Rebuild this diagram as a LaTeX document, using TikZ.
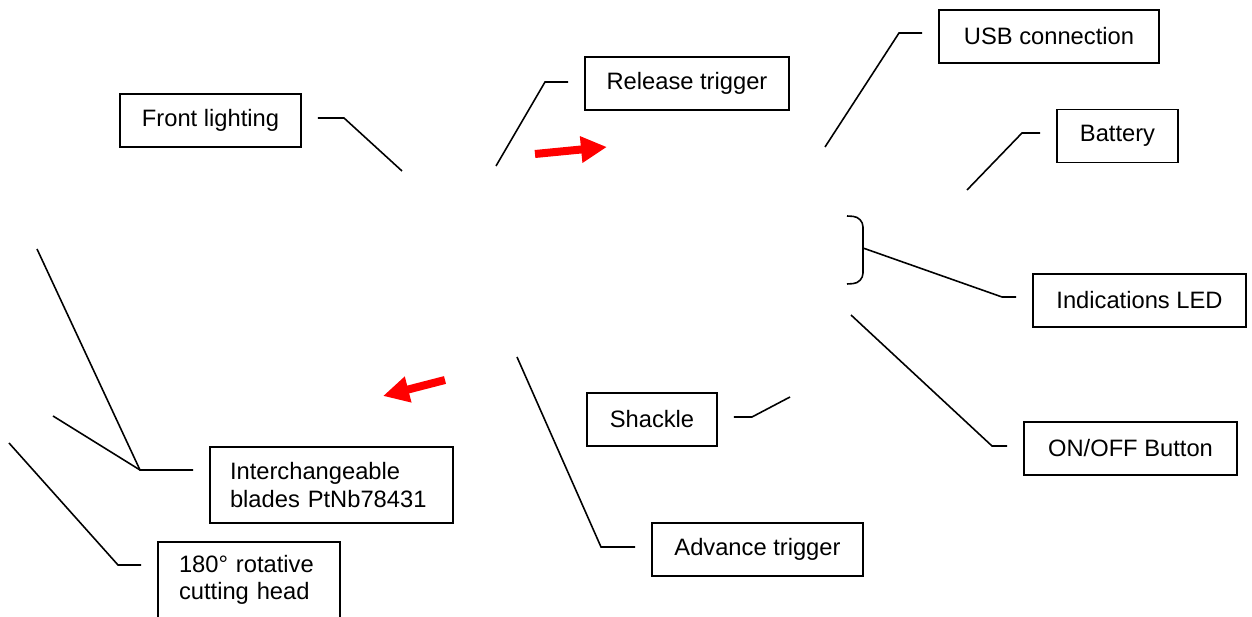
\documentclass[tikz,border=0pt]{standalone}
\usepackage{fontspec}
\setmainfont{Liberation Sans}
\usetikzlibrary{arrows.meta}

\begin{document}
\begin{tikzpicture}[
    x=0.02cm, y=-0.02cm,
    part/.style={draw, line width=0.9pt, minimum height=1.06cm, inner sep=0pt, font=\fontsize{13.5}{15.5}\selectfont},
    twoline/.style={part, align=left, minimum height=1.52cm},
    leader/.style={line width=0.9pt, shorten >=0.32cm},
    motion/.style={-{Triangle[length=0.52cm, width=0.5cm]}, line width=0.16cm, red}
]
\useasboundingbox (0,0) rectangle (1252,617);

% Part labels
\node[part, minimum width=3.62cm] (front) at (210.5,120.5) {Front lighting};
\node[part, minimum width=4.08cm] (release) at (687,83.5) {Release trigger};
\node[part, minimum width=4.40cm] (usb) at (1049,36.5) {USB connection};
\node[part, minimum width=2.42cm] (battery) at (1117.5,136) {Battery};
\node[part, minimum width=4.26cm] (leds) at (1139.5,300.5) {Indications LED};
\node[part, minimum width=4.26cm] (onoff) at (1130.5,448.5) {ON/OFF Button};
\node[part, minimum width=2.60cm] (shackle) at (652,419.5) {Shackle};
\node[part, minimum width=4.22cm] (advance) at (757.5,549.5) {Advance trigger};
\node[twoline, text width=4.06cm, inner xsep=0.4cm] (blades) at (331.5,485) {Interchangeable\\blades PtNb78431};
\node[twoline, text width=2.80cm, inner xsep=0.42cm] (rotative) at (249,580) {180° rotative\\cutting head};

% Leader points
\coordinate (front-tip) at (402,171);      \coordinate (front-bend) at (344,118);
\coordinate (release-tip) at (496,166);    \coordinate (release-bend) at (545,82);
\coordinate (usb-tip) at (825,147);        \coordinate (usb-bend) at (899,33);
\coordinate (battery-tip) at (967,190);    \coordinate (battery-bend) at (1022,133);
\coordinate (leds-tip) at (863,248);       \coordinate (leds-bend) at (1002,297);
\coordinate (onoff-tip) at (851,315);      \coordinate (onoff-bend) at (992,446);
\coordinate (shackle-tip) at (790,397);    \coordinate (shackle-bend) at (752,417);
\coordinate (advance-tip) at (517,357);    \coordinate (advance-bend) at (601,547);
\coordinate (blades-tip) at (37,249);      \coordinate (blades-tipb) at (53,416);
\coordinate (blades-bend) at (140,470);
\coordinate (rotative-tip) at (9,443);     \coordinate (rotative-bend) at (118,565);

% Leaders
\draw[leader] (front-tip) -- (front-bend) -- (front-bend -| front.east);
\draw[leader] (release-tip) -- (release-bend) -- (release-bend -| release.west);
\draw[leader] (usb-tip) -- (usb-bend) -- (usb-bend -| usb.west);
\draw[leader] (battery-tip) -- (battery-bend) -- (battery-bend -| battery.west);
\draw[leader] (leds-tip) -- (leds-bend) -- (leds-bend -| leds.west);
\draw[leader] (onoff-tip) -- (onoff-bend) -- (onoff-bend -| onoff.west);
\draw[leader] (shackle-tip) -- (shackle-bend) -- (shackle-bend -| shackle.east);
\draw[leader] (advance-tip) -- (advance-bend) -- (advance-bend -| advance.west);
\draw[leader] (blades-tip) -- (blades-bend) -- (blades-bend -| blades.west);
\draw[line width=0.9pt] (blades-tipb) -- (blades-bend);
\draw[leader] (rotative-tip) -- (rotative-bend) -- (rotative-bend -| rotative.west);

% LED bracket
\draw[line width=0.9pt, rounded corners=0.2cm] (847,216) -- (863,217) -- (leds-tip) -- (863,283) -- (847,284);

% Motion arrows
\coordinate (open-tail) at (535,154);  \coordinate (open-head) at (607,147);
\coordinate (close-tail) at (445,380); \coordinate (close-head) at (383,396);
\draw[motion] (open-tail) -- (open-head);
\draw[motion] (close-tail) -- (close-head);

\end{tikzpicture}
\end{document}
